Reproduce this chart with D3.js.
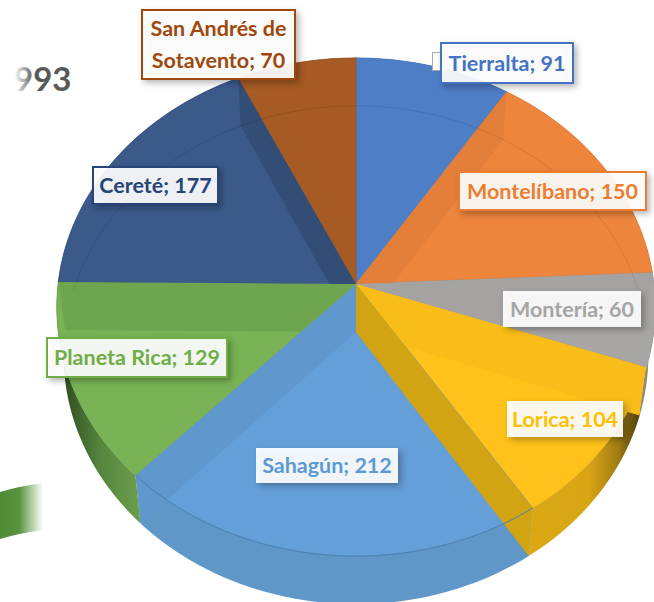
<!DOCTYPE html>
<html>
<head>
<meta charset="utf-8">
<style>
	html, body { margin: 0; padding: 0; background: #fff; overflow: hidden; }
	svg { display: block; }
	text { font-family: Lato, "Open Sans", sans-serif; font-weight: 700; }
</style>
<script src="https://cdn.jsdelivr.net/npm/d3@7/dist/d3.min.js"></script>
</head>
<body>
<script>
'use strict';

const categories = ['Tierralta', 'Montelíbano', 'Montería', 'Lorica', 'Sahagún', 'Planeta Rica', 'Cereté', 'San Andrés de Sotavento'];
const values = [91, 150, 60, 104, 212, 129, 177, 70];
const totalLabel = '993';

const faceColors = ['#4e7ec6', '#ee853d', '#a8a6a4', '#ffc21a', '#659fd8', '#79b355', '#3b5a8a', '#a65a24'];
const sideColors = ['#3f68a8', '#c96f30', '#8c8a88', '#dba814', '#6097c9', '#5f9444', '#2f4a7a', '#8a4a1c'];
const labelColors = ['#4472c4', '#ed7d31', '#a5a5a5', '#ffc000', '#5b9bd5', '#70ad47', '#264478', '#9e480e'];
const wallDarken = [0, 0.12, 0.05, 0.07, 0.14, 0.22, 0.45, 0];

// label boxes, in the same order as categories: x, y, w, h
const labelBoxes = [
	[441, 43, 132, 40],
	[459, 172, 187, 38],
	[503, 291, 138, 36],
	[507, 401, 116, 36],
	[256, 448, 142, 35],
	[47, 338, 180, 39],
	[93, 167, 125, 37],
	[142, 10, 153, 69],
];

const width = 654;
const height = 602;
const cx = 356;
const cy = 284;
const radiusX = 298;
const radiusY = 247;
const perspective = 0.0923;
const depth = 48;
const shrink = 0.977;
const fontSize = 21.5;

const svg = d3.select('body').append('svg').attr('width', width).attr('height', height);
const defs = svg.append('defs');

const xScale = d3.scaleLinear().domain([-1, 1]).range([cx - radiusX, cx + radiusX]);
const yScale = d3.scaleLinear().domain([-1, 1]).range([cy + radiusY, cy - radiusY]);

function topPoint(angle) {
	const u = Math.sin(angle);
	const v = Math.cos(angle);
	const d = 1 + perspective * v;
	return [xScale(u / d), yScale(v / d)];
}

function bottomPoint(angle) {
	const p = topPoint(angle);
	return [cx + (p[0] - cx) * shrink, p[1] + depth];
}

function arcPoints(pointAt, a0, a1) {
	const steps = Math.max(2, Math.ceil(Math.abs(a1 - a0) / 0.02));
	return d3.range(steps + 1).map(i => pointAt(a0 + (a1 - a0) * i / steps));
}

const line = d3.line();
const center = [xScale(0), yScale(0)];
const centerLow = [center[0], center[1] + depth];

const pie = d3.pie().sort(null)(values);

const topFace = d => line([center, ...arcPoints(topPoint, d.startAngle, d.endAngle)]) + 'Z';
const sideFace = d => line([...arcPoints(topPoint, d.startAngle, d.endAngle), ...arcPoints(bottomPoint, d.endAngle, d.startAngle)]) + 'Z';
const wallFace = angle => line([center, topPoint(angle), bottomPoint(angle), centerLow]) + 'Z';

// gradients for the two ends of the rim, where the light falls away
function rimGradient(id, x1, x2, stops) {
	const gradient = defs.append('linearGradient').attr('id', id)
		.attr('gradientUnits', 'userSpaceOnUse')
		.attr('x1', x1).attr('x2', x2).attr('y1', 0).attr('y2', 0);
	stops.forEach(s => gradient.append('stop').attr('offset', s[0]).attr('stop-color', s[1]));
}
rimGradient('rimYellow', 530, 648, [[0, '#dba814'], [0.5, '#d9a515'], [0.75, '#a07c12'], [0.9, '#5a4810'], [1, '#3a3010']]);
rimGradient('rimGreen', 140, 60, [[0, '#6a9f4c'], [0.5, '#55863c'], [1, '#2c4620']]);
rimGradient('fadeTotal', 14, 34, [[0, '#ffffff'], [1, '#595959']]);

pie.forEach((d, i) => {
	const clip = defs.append('clipPath').attr('id', `sliceClip${i}`);
	clip.append('path').attr('d', topFace(d));
	clip.append('path').attr('d', sideFace(d));
});

// rim
const rimFill = i => (i == 3 ? 'url(#rimYellow)' : i == 5 ? 'url(#rimGreen)' : sideColors[i]);
svg.append('g').selectAll('path').data(pie).join('path')
	.attr('d', sideFace)
	.attr('fill', (d, i) => rimFill(i));

// top faces
svg.append('g').selectAll('path').data(pie).join('path')
	.attr('d', topFace)
	.attr('fill', (d, i) => faceColors[i])
	.attr('stroke', (d, i) => d3.color(faceColors[i]).darker(0.3))
	.attr('stroke-width', 0.6);

// cut walls seen through the transparent faces
svg.append('g').selectAll('path').data(pie).join('path')
	.attr('d', d => wallFace((d.startAngle + d.endAngle) / 2 < Math.PI ? d.startAngle : d.endAngle))
	.attr('clip-path', (d, i) => `url(#sliceClip${i})`)
	.attr('fill', (d, i) => d3.color(faceColors[i]).darker(wallDarken[i]));

// the wall that faces the viewer sits in front of Sahagún
svg.append('path')
	.attr('d', wallFace(pie[3].endAngle))
	.attr('fill', '#d2a414');

// lower rim seen through the back of the pie
const backArc = 80 * Math.PI / 180;
svg.append('path')
	.attr('d', line(arcPoints(bottomPoint, -backArc, backArc)))
	.attr('fill', 'none')
	.attr('stroke', '#000')
	.attr('stroke-opacity', 0.1)
	.attr('stroke-width', 1);

// front edge of Sahagún crossing the wall
svg.append('path')
	.attr('d', line(arcPoints(topPoint, pie[4].startAngle, pie[4].endAngle)))
	.attr('fill', 'none')
	.attr('stroke', '#4a7fae')
	.attr('stroke-width', 1);

// leftovers of the cropped slide
svg.append('text')
	.attr('x', 14)
	.attr('y', 91)
	.attr('font-size', 33)
	.attr('fill', 'url(#fadeTotal)')
	.text(totalLabel);

const swooshFade = defs.append('linearGradient').attr('id', 'swooshFade')
	.attr('gradientUnits', 'userSpaceOnUse')
	.attr('x1', 0).attr('x2', 43).attr('y1', 0).attr('y2', 0);
swooshFade.append('stop').attr('offset', 0).attr('stop-color', '#4f8a34');
swooshFade.append('stop').attr('offset', 0.45).attr('stop-color', '#5a9440');
swooshFade.append('stop').attr('offset', 1).attr('stop-color', '#ffffff');
svg.append('path')
	.attr('d', 'M0,492 Q20,486 43,483 L43,530 Q20,533 0,539 Z')
	.attr('fill', 'url(#swooshFade)');

svg.append('rect')
	.attr('x', 432.5).attr('y', 52.5).attr('width', 12).attr('height', 18)
	.attr('fill', '#fff').attr('stroke', '#aaa');

// data labels
const labels = svg.append('g').selectAll('g').data(categories).join('g');

labels.append('rect')
	.attr('x', (d, i) => labelBoxes[i][0])
	.attr('y', (d, i) => labelBoxes[i][1])
	.attr('width', (d, i) => labelBoxes[i][2])
	.attr('height', (d, i) => labelBoxes[i][3])
	.attr('fill', '#fff')
	.attr('fill-opacity', 0.92)
	.attr('stroke', (d, i) => (i == 2 || i == 3 || i == 4 ? 'none' : labelColors[i]))
	.attr('stroke-width', 2)
	.style('filter', 'drop-shadow(3px 3px 3px rgba(0,0,0,0.3))');

labels.each(function (d, i) {
	const lines = `${d}; ${values[i]}`.replace(' de ', ' de\n').split('\n');
	const box = labelBoxes[i];
	const lineHeight = 32;
	const midY = box[1] + box[3] / 2;
	d3.select(this).selectAll('text').data(lines).join('text')
		.attr('x', box[0] + box[2] / 2)
		.attr('y', (t, j) => midY + (j - (lines.length - 1) / 2) * lineHeight)
		.attr('dy', '0.35em')
		.attr('text-anchor', 'middle')
		.attr('font-size', fontSize)
		.attr('fill', labelColors[i])
		.text(t => t);
});
</script>
</body>
</html>
